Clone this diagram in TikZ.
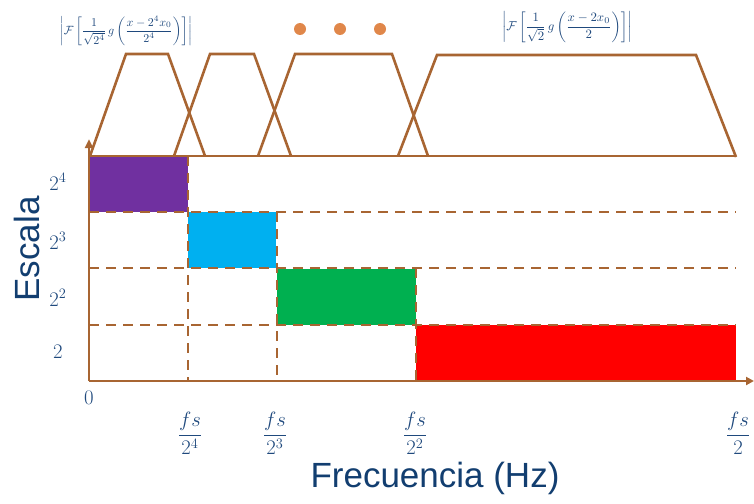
\documentclass[tikz,border=0pt]{standalone}
\usepackage{fontspec}
\usepackage{amsmath}
\usepackage{graphicx}
\newfontfamily\armo{Liberation Sans}
\usetikzlibrary{arrows.meta}
\definecolor{brn}{RGB}{168,101,50}
\definecolor{txtb}{RGB}{31,73,125}
\definecolor{dkb}{RGB}{18,62,112}
\definecolor{dotc}{RGB}{224,135,74}
\definecolor{cpurple}{RGB}{112,48,160}
\definecolor{ccyan}{RGB}{0,176,240}
\definecolor{cgreen}{RGB}{0,176,80}
\definecolor{cred}{RGB}{255,0,0}
\begin{document}
\begin{tikzpicture}[x=1pt,y=-1pt,
  solidline/.style={draw=brn,line width=2.8pt},
  dashline/.style={draw=brn,line width=2.8pt,dash pattern=on 10pt off 7pt},
  trap/.style={draw=brn,line width=2.6pt,line join=miter},
  ylab/.style={text=txtb,font=\fontsize{21}{24}\selectfont,inner sep=0pt},
  xlab/.style={text=txtb,font=\fontsize{22}{26}\selectfont,inner sep=0pt},
  axlab/.style={text=dkb,font=\armo\fontsize{35}{40}\selectfont,inner sep=0pt},
  formula/.style={text=txtb,inner sep=0pt},
  dotn/.style={circle,fill=dotc,minimum size=12pt,inner sep=0pt}]
\useasboundingbox (0,0) rectangle (754,503);
% coloured bands
\fill[cpurple] (89,156) rectangle (188,212);
\fill[ccyan] (188,212) rectangle (276,268);
\fill[cgreen] (277,269) rectangle (416,325);
\fill[cred] (416,325) rectangle (736,380);
% dashed grid
\draw[dashline] (89,212) -- (736,212);
\draw[dashline] (89,268) -- (736,268);
\draw[dashline] (89,325) -- (736,325);
\draw[dashline] (188,156) -- (188,381);
\draw[dashline] (277,212) -- (277,381);
\draw[dashline] (416,268) -- (416,381);
% trapezoids
\draw[trap] (90,156) -- (126,54) -- (168,54) -- (205,156);
\draw[trap] (174,156) -- (210,54) -- (254,54) -- (291,156);
\draw[trap] (258,156) -- (295,54) -- (392,54) -- (428,156);
\draw[trap] (398,156) -- (437,55) -- (696,55) -- (736,157);
\draw[solidline] (89,156) -- (736,156);
% axes
\coordinate (O) at (89,381);
\coordinate (ytop) at (89,139);
\coordinate (xend) at (754,381);
\draw[solidline,-{Triangle[length=9pt,width=8pt]}] (O) -- (ytop);
\draw[solidline,-{Triangle[length=8pt,width=8pt]}] (O) -- (xend);
% dots
\node[dotn] (d1) at (300,29) {};
\node[dotn] (d2) at (340,29) {};
\node[dotn] (d3) at (380,29) {};
% formulas
\node[formula] (f1) at (126,31) {\resizebox{132pt}{!}{$\displaystyle\left|\mathcal{F}\left[\frac{1}{\sqrt{2^4}}\,g\left(\frac{x-2^4x_0}{2^4}\right)\right]\right|$}};
\node[formula] (f2) at (567,27) {\resizebox{130pt}{!}{$\displaystyle\left|\mathcal{F}\left[\frac{1}{\sqrt{2}}\,g\left(\frac{x-2x_0}{2}\right)\right]\right|$}};
% y labels
\node[ylab] (y4) at (58,182) {$2^4$};
\node[ylab] (y3) at (58,241) {$2^3$};
\node[ylab] (y2) at (58,298) {$2^2$};
\node[ylab] (y1) at (58,352) {$2$};
% x labels
\node[xlab] (x0) at (89,398) {$0$};
\node[xlab] (x4) at (190,433) {$\dfrac{fs}{2^4}$};
\node[xlab] (x3) at (275,433) {$\dfrac{fs}{2^3}$};
\node[xlab] (x2) at (415,433) {$\dfrac{fs}{2^2}$};
\node[xlab] (x1) at (738,433) {$\dfrac{fs}{2}$};
% axis titles
\node[axlab,rotate=90] (esc) at (27,249) {Escala};
\node[axlab] (frec) at (435,478) {Frecuencia (Hz)};
\end{tikzpicture}
\end{document}
